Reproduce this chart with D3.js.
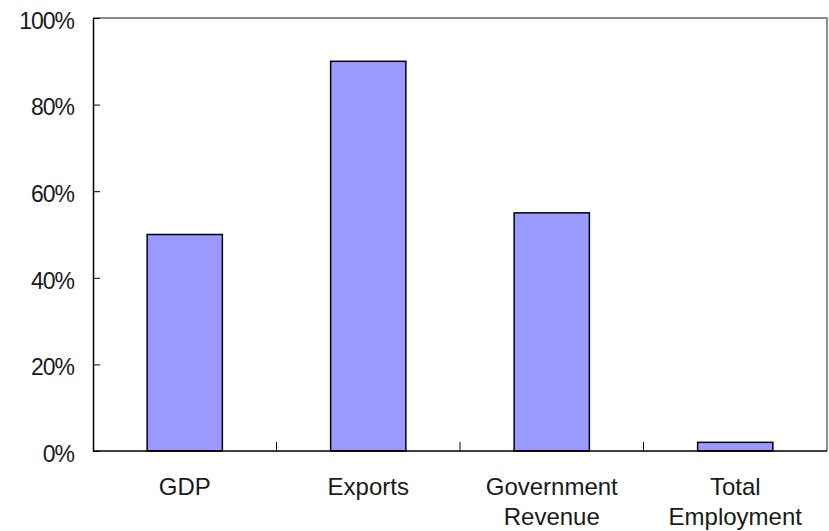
<!DOCTYPE html>
<html>
<head>
<meta charset="utf-8">
<script src="https://cdn.jsdelivr.net/npm/d3@7"></script>
<style>
  body { margin: 0; background: #fff; }
  text { font-family: "Liberation Sans", Arial, sans-serif; fill: #1a1a1a; }
</style>
</head>
<body>
<svg width="829" height="531"></svg>
<script>
var width = 829;
var height = 531;
var margin = {left: 93, top: 18, right: 2, bottom: 80};

var categories = ["GDP", "Exports", "Government Revenue", "Total Employment"];
var labelLines = [["GDP"], ["Exports"], ["Government", "Revenue"], ["Total", "Employment"]];
var shares = [0.50, 0.90, 0.55, 0.02];
var yTicks = [0, 0.2, 0.4, 0.6, 0.8, 1.0];

var svg = d3.select("svg");

var x = d3.scaleBand()
  .domain(categories)
  .range([margin.left, width - margin.right])
  .paddingInner(0.59)
  .paddingOuter(0.295);

var y = d3.scaleLinear()
  .domain([0, 1])
  .range([height - margin.bottom, margin.top]);

// plot frame (top and right edges in grey)
svg.append("path")
  .attr("d", "M" + margin.left + "," + margin.top + "H" + (width - margin.right) + "V" + (height - margin.bottom))
  .attr("fill", "none")
  .attr("stroke", "#8c8c8c")
  .attr("stroke-width", 2);

// bars
svg.selectAll("rect.bar")
  .data(shares)
  .enter()
  .append("rect")
  .attr("class", "bar")
  .attr("x", function(d, i) { return x(categories[i]); })
  .attr("width", x.bandwidth())
  .attr("y", function(d) { return y(d); })
  .attr("height", function(d) { return y(0) - y(d); })
  .attr("fill", "#9999ff")
  .attr("stroke", "#000")
  .attr("stroke-width", 1.5);

// y axis, ticks pointing inward
var axisLeft = d3.axisRight(y)
  .tickValues(yTicks)
  .tickSize(7)
  .tickSizeOuter(0)
  .tickFormat(d3.format(".0%"));

var gy = svg.append("g")
  .attr("transform", "translate(" + margin.left + ",0)")
  .call(axisLeft);
gy.select(".domain").attr("stroke", "#000").attr("stroke-width", 1.5);
gy.selectAll(".tick line").attr("stroke", "#000");
gy.selectAll(".tick text")
  .attr("x", -19)
  .attr("dy", "0.45em")
  .attr("text-anchor", "end")
  .style("font-size", "23px")
  .style("letter-spacing", "-1px");

// x axis: ticks between categories
var step = x.step();
var sepTicks = d3.range(1, categories.length).map(function(k) { return margin.left + k * step; });

svg.append("line")
  .attr("x1", margin.left)
  .attr("x2", width - margin.right)
  .attr("y1", y(0))
  .attr("y2", y(0))
  .attr("stroke", "#000")
  .attr("stroke-width", 1.5);

svg.selectAll("line.sep")
  .data(sepTicks)
  .enter()
  .append("line")
  .attr("class", "sep")
  .attr("x1", function(d) { return d; })
  .attr("x2", function(d) { return d; })
  .attr("y1", y(0))
  .attr("y2", y(0) - 9)
  .attr("stroke", "#000");

// category labels
var lab = svg.selectAll("text.cat")
  .data(labelLines)
  .enter()
  .append("text")
  .attr("class", "cat")
  .attr("text-anchor", "middle")
  .style("font-size", "24px")
  .attr("transform", function(d, i) {
    return "translate(" + (x(categories[i]) + x.bandwidth() / 2) + "," + (y(0) + 44) + ")";
  });

lab.selectAll("tspan")
  .data(function(d) { return d; })
  .enter()
  .append("tspan")
  .attr("x", 0)
  .attr("dy", function(d, i) { return i === 0 ? 0 : 30; })
  .text(function(d) { return d; });
</script>
</body>
</html>
